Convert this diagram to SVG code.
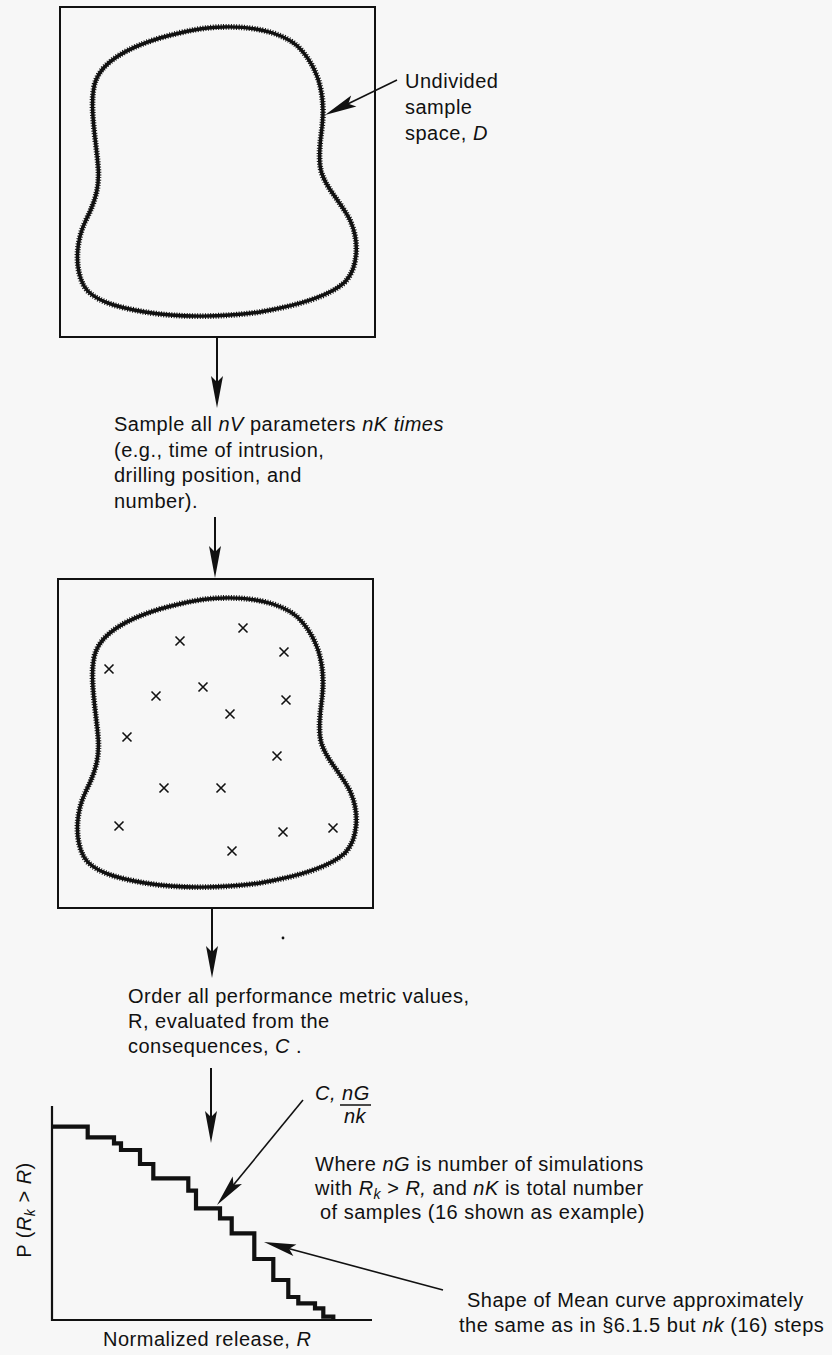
<svg xmlns="http://www.w3.org/2000/svg" xmlns:xlink="http://www.w3.org/1999/xlink" width="832" height="1355" viewBox="0 0 832 1355">
<style>
  text { font-family: "Liberation Sans", Arial, Helvetica, sans-serif; font-size: 20px; fill: #111; letter-spacing: 0.5px; }
  .it { font-style: italic; }
  .sub { font-size: 14px; font-style: italic; }
  .box { fill: none; stroke: #111; stroke-width: 2; }
  .blob { fill: none; stroke: #111; stroke-width: 3.4; stroke-linejoin: round; }
  .blobtex { fill: none; stroke: #111; stroke-width: 5.8; stroke-dasharray: 1 1.6; }
  .cross { stroke: #111; stroke-width: 1.6; fill: none; }
  .conn { stroke: #111; stroke-width: 2; fill: none; }
  .diag { stroke: #111; stroke-width: 1.6; fill: none; }
  .axis { stroke: #111; stroke-width: 2.2; fill: none; }
  .stair { stroke: #111; stroke-width: 4.2; fill: none; stroke-linejoin: miter; }
</style>
<defs>
  <marker id="ah" markerUnits="userSpaceOnUse" viewBox="-26 -8 36 16" markerWidth="36" markerHeight="16" refX="0" refY="0" orient="auto">
    <path d="M8,0 L-24,-6 L-18,0 L-24,6 Z" fill="#111"/>
  </marker>
  <path id="blob" d="M 223 27 C 260 26, 290 35, 303 52 C 318 70, 323 90, 323 112 C 323 130, 318 145, 320 165 C 322 185, 340 200, 350 220 C 360 242, 358 268, 345 282 C 330 296, 300 305, 260 312 C 225 317, 180 318, 145 312 C 115 307, 92 300, 84 286 C 74 268, 76 240, 86 220 C 96 200, 100 185, 98 165 C 96 140, 88 100, 96 80 C 104 60, 130 47, 160 38 C 185 31, 205 27, 223 27 Z"/>
  <g id="x"><path class="cross" d="M-4.5,-4.5 L4.5,4.5 M-4.5,4.5 L4.5,-4.5"/></g>
</defs>
<rect width="832" height="1355" fill="#f7f7f7"/>

<g id="box-undivided">
  <rect class="box" x="60" y="7" width="315" height="330"/>
  <use xlink:href="#blob" class="blob"/>
  <use xlink:href="#blob" class="blobtex"/>
</g>

<g id="label-undivided">
  <text x="405" y="88">Undivided</text>
  <text x="405" y="114">sample</text>
  <text x="405" y="140">space, <tspan class="it">D</tspan></text>
</g>

<g id="text-sample">
  <text x="114" y="431">Sample all <tspan class="it">nV</tspan> parameters <tspan class="it">nK times</tspan></text>
  <text x="114" y="456.5">(e.g., time of intrusion,</text>
  <text x="114" y="482">drilling position, and</text>
  <text x="114" y="507.5">number).</text>
</g>

<g id="box-sampled">
  <rect class="box" x="58" y="579" width="315" height="329"/>
  <g transform="translate(0,571)">
    <use xlink:href="#blob" class="blob"/>
    <use xlink:href="#blob" class="blobtex"/>
  </g>
  <use xlink:href="#x" x="243" y="628"/>
  <use xlink:href="#x" x="180" y="641"/>
  <use xlink:href="#x" x="284" y="652"/>
  <use xlink:href="#x" x="109" y="669"/>
  <use xlink:href="#x" x="203" y="687"/>
  <use xlink:href="#x" x="156" y="696"/>
  <use xlink:href="#x" x="286" y="700"/>
  <use xlink:href="#x" x="230" y="714"/>
  <use xlink:href="#x" x="127" y="737"/>
  <use xlink:href="#x" x="277" y="756"/>
  <use xlink:href="#x" x="164" y="788"/>
  <use xlink:href="#x" x="221" y="788"/>
  <use xlink:href="#x" x="119" y="826"/>
  <use xlink:href="#x" x="333" y="828"/>
  <use xlink:href="#x" x="283" y="832"/>
  <use xlink:href="#x" x="232" y="851"/>
</g>

<circle cx="283" cy="938" r="1.4" fill="#111"/>

<g id="text-order">
  <text x="128" y="1003">Order all performance metric values,</text>
  <text x="128" y="1028">R, evaluated from the</text>
  <text x="128" y="1053">consequences, <tspan class="it">C</tspan> .</text>
</g>

<g id="chart">
  <path class="axis" d="M52 1106 V1320 H372"/>
  <path class="stair" d="M52 1126.7 H87.7 V1137.3 H114 V1143.3 H121 V1150 H140 V1164 H153.3 V1178.3 H188.3 V1190.7 H196 V1208.3 H220 V1218.3 H231.7 V1233.3 H254.3 V1259 H273.3 V1280 H288.3 V1297 H298.3 V1303.3 H315 V1308.3 H323.3 V1316.7 H333.3 V1320"/>
  <text transform="translate(31,1210) rotate(-90)" text-anchor="middle">P (<tspan class="it">R</tspan><tspan class="sub" dy="4">k</tspan><tspan dy="-4"> &gt; </tspan><tspan class="it">R</tspan>)</text>
  <text x="103" y="1346">Normalized release, <tspan class="it">R</tspan></text>
</g>

<g id="label-cng">
  <text x="315" y="1100" class="it">C, nG</text>
  <line x1="340" y1="1105" x2="371" y2="1105" stroke="#111" stroke-width="1.5"/>
  <text x="344" y="1123" class="it">nk</text>
</g>

<g id="label-where">
  <text x="315" y="1171">Where <tspan class="it">nG</tspan> is number of simulations</text>
  <text x="315" y="1195">with <tspan class="it">R</tspan><tspan class="sub" dy="4">k</tspan><tspan dy="-4"> &gt; </tspan><tspan class="it">R,</tspan> and <tspan class="it">nK</tspan> is total number</text>
  <text x="320" y="1219">of samples (16 shown as example)</text>
</g>

<g id="label-shape">
  <text x="467" y="1307">Shape of Mean curve approximately</text>
  <text x="459" y="1332">the same as in §6.1.5 but <tspan class="it">nk</tspan> (16) steps</text>
</g>

<g id="connectors">
  <line class="diag" x1="397" y1="80" x2="332.2" y2="111.5" marker-end="url(#ah)"/>
  <line class="conn" x1="217" y1="337" x2="217" y2="400" marker-end="url(#ah)"/>
  <line class="conn" x1="215" y1="517" x2="215" y2="570" marker-end="url(#ah)"/>
  <line class="conn" x1="212" y1="908" x2="212" y2="970" marker-end="url(#ah)"/>
  <line class="conn" x1="211" y1="1068" x2="211" y2="1135" marker-end="url(#ah)"/>
  <line class="diag" x1="303" y1="1100" x2="222.1" y2="1198.8" marker-end="url(#ah)"/>
  <line class="diag" x1="443" y1="1290" x2="271.7" y2="1244.1" marker-end="url(#ah)"/>
</g>
</svg>
